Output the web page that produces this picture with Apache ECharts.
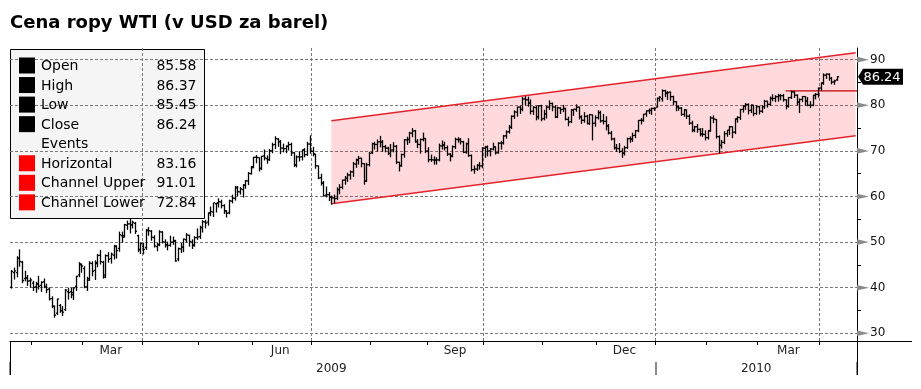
<!DOCTYPE html>
<html><head><meta charset="utf-8">
<script src="https://cdn.jsdelivr.net/npm/echarts@6/dist/echarts.min.js"></script>
<style>html,body{margin:0;padding:0;background:#fff}#c{width:921px;height:389px}</style>
</head><body><div id="c"></div>
<script>
// ---------- DATA ----------
const titleText = 'Cena ropy WTI (v USD za barel)';
const firstDay = '2009-01-21';
const holidays = ['2009-02-16','2009-04-10','2009-05-25','2009-07-03','2009-09-07','2009-11-26','2009-12-25','2010-01-01','2010-01-18','2010-02-15','2010-04-02'];
const slotCount = 315;
const monthNames = ['Jan','Feb','Mar','Apr','May','Jun','Jul','Aug','Sep','Oct','Nov','Dec'];
const labelMonths = [3,6,9,12];
const yTicks = [30,40,50,60,70,80,90];
const yMinorTicks = [35,45,55,65,75,85];
const yMin = 28.31, yMax = 92.56;

const opens = [
 40.1,43.3,43.3,46.4,45.6,42.0,42.1,41.5,
 41.0,40.2,40.9,40.5,41.3,40.3,39.7,37.6,35.9,34.4,36.1,35.0,35.2,39.1,39.1,38.9,40.3,42.8,45.0,
 44.2,40.2,42.0,45.3,43.8,45.3,47.1,45.6,42.8,47.0,46.4,47.1,49.0,48.6,51.4,51.4,53.7,54.0,53.8,54.1,51.4,48.3,
 49.0,48.8,52.5,52.4,51.0,49.0,49.5,52.2,50.0,49.4,49.3,50.0,50.2,46.3,48.5,48.9,50.5,51.5,50.0,49.4,51.0,
 51.2,53.2,54.4,54.4,56.4,56.6,58.4,58.6,58.8,58.0,56.9,56.4,59.0,59.6,61.9,61.0,61.5,62.5,63.4,65.0,
 66.5,68.6,68.5,66.2,68.9,68.3,68.1,70.0,71.4,72.6,72.0,70.6,70.5,71.0,71.4,69.6,66.9,68.7,68.7,70.2,69.2,71.5,
 69.9,69.3,66.7,64.1,62.9,60.3,60.4,59.8,59.7,59.6,61.5,62.0,63.6,64.0,64.7,65.4,67.1,68.0,68.4,67.2,63.4,67.0,
 69.6,71.6,71.4,72.0,71.9,70.9,70.6,69.4,70.2,71.0,67.5,66.8,69.2,72.4,72.5,73.9,74.4,72.0,71.4,72.5,72.7,
 70.0,68.1,68.0,68.0,68.0,71.1,71.3,70.7,69.3,68.9,70.9,72.5,72.5,72.0,69.7,71.6,69.0,65.9,66.0,66.8,66.7,
 70.6,70.8,70.0,70.4,70.9,69.6,71.7,71.8,73.3,74.2,75.2,77.6,78.5,79.6,79.1,81.4,81.2,80.5,78.7,79.5,77.5,79.9,
 77.1,78.1,79.6,80.4,79.6,77.5,79.4,79.1,79.3,76.9,76.4,78.9,79.1,79.6,77.5,76.7,77.6,76.0,77.9,76.1,
 77.3,78.4,76.6,76.5,75.5,73.9,72.6,70.7,70.5,69.9,69.5,70.7,72.7,72.6,73.4,74.4,76.7,76.7,78.1,78.8,78.9,79.3,
 79.6,81.5,81.4,83.2,82.7,82.9,81.9,80.8,79.7,79.4,78.0,79.0,77.6,76.1,74.5,75.3,74.7,73.7,73.6,
 72.9,74.4,77.2,76.9,73.1,71.2,71.9,73.8,74.5,75.3,74.1,77.0,77.3,79.1,79.8,80.2,78.9,80.0,78.2,
 79.7,78.7,79.7,80.9,80.2,81.5,81.5,81.9,82.1,82.1,81.2,79.8,81.7,82.9,82.2,80.7,81.3,81.9,80.9,80.0,80.0,82.2,82.4,
 83.8,84.9,86.6,86.8,85.9,85.1,85.58
];
const highs = [
 43.9,44.4,46.9,48.4,45.9,43.7,42.8,42.2,
 41.5,41.3,42.6,41.4,42.0,40.9,40.1,38.1,36.1,37.6,36.4,36.0,39.7,40.0,40.0,40.1,42.6,45.6,45.3,
 44.7,42.4,45.8,45.8,46.0,47.4,48.3,45.9,47.3,47.8,47.7,49.4,49.3,52.3,52.3,54.0,54.7,55.2,54.7,54.4,51.6,49.9,
 49.9,52.9,53.3,52.6,51.5,49.8,52.6,52.4,50.6,50.1,51.4,51.2,50.5,48.8,49.8,50.8,52.0,51.6,50.6,51.3,53.0,
 53.6,54.8,54.9,56.5,57.8,58.6,58.6,59.6,59.3,58.3,57.0,59.3,60.4,62.3,62.3,62.1,62.7,63.6,65.4,66.7,
 68.7,69.1,68.6,68.9,70.3,69.0,70.4,71.8,73.2,72.8,72.4,71.6,71.2,72.0,71.8,69.7,69.0,69.9,70.3,70.6,72.0,73.4,
 70.9,69.3,66.8,65.0,63.4,62.2,61.0,60.2,60.4,62.0,62.7,63.7,64.5,65.2,65.7,67.6,68.3,68.9,68.5,67.3,67.4,69.8,
 71.8,72.0,72.5,73.3,72.4,71.3,70.9,71.5,71.9,71.3,67.6,69.4,72.6,73.1,74.2,75.0,74.6,72.6,72.7,74.0,72.8,
 70.8,69.2,68.8,68.6,71.6,72.3,72.0,71.2,69.5,71.2,72.9,73.0,72.8,72.2,71.8,72.8,69.2,66.8,67.1,67.6,70.8,
 71.1,71.2,70.6,71.8,71.0,71.9,72.2,73.5,74.5,75.7,77.8,78.9,79.7,79.9,81.8,82.0,81.9,81.3,79.8,79.9,80.0,80.1,
 79.0,79.9,81.1,80.6,80.0,79.7,79.6,80.1,79.5,77.5,79.2,79.2,80.2,79.7,77.8,78.5,77.9,78.1,78.0,77.8,
 78.9,78.8,78.1,77.6,75.9,74.4,72.9,71.5,71.7,70.6,71.1,72.9,73.2,74.0,74.6,76.8,77.2,78.1,78.9,79.3,79.5,79.6,
 81.7,82.0,83.5,83.4,83.1,83.0,82.1,80.9,80.0,79.6,79.2,79.1,78.0,76.6,75.5,75.9,75.0,75.0,74.5,
 74.6,77.6,77.8,77.0,73.4,72.4,74.3,74.6,75.5,75.4,77.1,77.6,79.2,80.0,80.5,80.4,80.2,80.1,80.0,
 79.9,80.0,81.2,81.0,81.9,82.4,82.2,82.5,82.5,82.5,81.3,81.8,83.2,83.1,82.4,81.5,82.0,82.0,81.8,80.9,82.3,82.7,83.9,
 85.0,87.0,87.0,87.0,86.2,85.6,86.37
];
const lows = [
 39.9,41.9,42.4,44.7,41.1,41.5,40.5,40.1,
 39.4,39.0,39.7,39.2,40.0,38.9,37.3,35.6,33.55,34.1,34.6,33.9,35.0,37.5,37.8,37.4,39.4,42.4,43.4,
 40.0,39.4,41.6,42.6,41.8,44.6,45.2,42.1,42.2,45.6,45.4,46.3,46.5,48.0,50.0,51.1,52.8,52.0,53.1,51.9,47.9,47.5,
 47.4,48.4,51.5,50.4,48.9,48.1,49.2,49.8,48.9,48.3,49.1,49.5,45.8,45.9,47.7,47.9,50.0,49.1,48.6,49.1,50.6,
 50.8,52.2,53.1,53.7,55.8,55.6,56.6,57.7,57.5,56.3,55.5,56.2,58.6,59.2,60.2,60.5,59.9,61.8,62.6,64.9,
 66.3,67.4,65.6,65.9,68.0,67.3,67.9,69.6,70.5,71.0,69.4,69.8,69.6,70.2,69.0,66.6,66.5,67.8,68.0,68.7,69.0,69.5,
 68.9,66.2,63.9,62.5,60.1,59.9,59.1,58.3,58.6,59.3,60.6,61.7,62.7,63.3,63.8,64.4,66.4,67.1,66.5,62.7,63.3,66.7,
 69.4,70.4,69.9,70.9,69.9,69.8,69.2,68.7,69.8,67.2,65.6,66.6,68.6,71.4,71.8,73.1,71.9,70.7,69.5,72.2,69.6,
 67.6,67.7,67.1,67.1,67.8,70.4,70.2,69.0,67.8,68.7,70.5,71.9,71.5,69.6,69.5,68.8,65.6,65.1,65.7,66.0,66.3,
 68.6,68.9,68.9,70.2,69.3,69.5,70.4,71.5,72.8,73.9,74.9,77.1,77.6,78.2,78.8,80.1,79.8,78.1,78.0,76.8,77.0,76.6,
 76.8,77.2,79.1,78.8,77.3,77.3,78.2,78.6,76.8,75.5,76.2,77.8,78.7,77.0,76.0,76.3,75.9,75.8,72.4,75.4,
 77.0,76.3,75.9,74.6,73.7,72.4,70.4,69.9,69.6,68.6,69.1,70.5,71.9,72.1,72.9,74.2,75.9,76.5,77.6,78.2,78.0,78.9,
 79.6,80.9,80.9,81.9,81.3,81.1,80.1,78.8,78.9,77.8,77.6,77.1,75.8,74.2,74.2,74.1,73.3,73.2,72.4,
 72.6,74.3,76.2,72.8,69.5,70.6,71.6,73.2,73.6,72.9,73.8,76.3,76.9,78.5,79.1,78.1,78.4,77.7,78.0,
 78.1,78.4,79.3,79.6,80.0,81.0,80.8,80.9,81.2,80.9,79.2,79.6,81.5,81.7,80.1,78.4,80.8,80.0,79.9,79.5,79.9,81.4,81.8,
 83.3,84.6,85.9,85.5,84.7,84.6,85.45
];
const closes = [
 43.55,43.67,46.47,45.73,41.58,42.16,41.44,41.68,
 40.08,40.78,40.32,41.17,40.17,39.56,37.55,35.94,33.98,37.51,34.93,34.62,39.48,38.94,38.44,39.96,42.50,45.22,44.76,
 40.15,41.65,45.38,43.61,45.52,47.07,45.71,42.33,47.03,46.25,47.35,49.16,48.14,51.61,51.06,53.80,53.98,53.77,54.34,52.38,48.41,49.66,
 48.39,52.64,52.51,51.05,49.15,49.38,52.24,50.05,49.41,49.25,49.98,50.33,45.88,48.55,48.86,50.62,51.55,50.14,49.20,50.97,51.12,
 53.20,54.47,54.16,56.34,56.71,58.63,58.50,58.85,58.02,56.85,56.34,59.03,59.65,62.04,61.05,61.67,62.45,63.45,65.08,66.31,
 68.58,68.55,66.12,68.81,68.44,68.09,70.01,71.33,72.68,72.04,70.62,70.47,71.03,71.37,69.55,66.93,68.67,68.67,70.20,69.16,71.49,69.89,
 69.31,66.73,64.05,62.93,60.14,60.41,59.89,59.69,59.52,61.54,62.02,63.56,63.98,64.72,65.40,67.15,68.05,68.38,67.23,63.35,66.94,69.45,
 71.58,71.42,71.97,71.94,70.93,70.60,69.45,70.16,71.01,67.51,66.75,69.19,72.42,72.54,73.89,74.37,72.05,71.43,72.49,72.74,69.96,
 68.05,68.05,67.96,68.02,71.10,71.31,70.68,69.29,68.86,70.93,72.51,72.47,72.04,69.71,71.55,68.97,65.89,66.02,66.84,66.71,70.61,
 70.82,69.95,70.41,70.88,69.57,71.69,71.77,73.27,74.15,75.18,77.58,78.53,79.61,79.09,81.37,81.19,80.50,78.68,79.55,77.46,79.87,77.00,
 78.13,79.60,80.40,79.62,77.43,79.43,79.05,79.28,76.94,76.35,78.90,79.14,79.58,77.46,76.72,77.56,76.02,77.96,76.05,77.28,
 78.37,76.60,76.46,75.47,73.93,72.62,70.67,70.54,69.87,69.51,70.69,72.66,72.58,73.36,74.40,76.67,76.67,78.05,78.77,78.87,79.28,79.36,
 81.51,81.77,83.18,82.66,82.75,81.89,80.79,79.65,79.39,78.00,79.02,77.62,76.08,74.54,75.26,74.71,73.67,73.64,72.89,
 74.43,77.23,76.98,73.14,71.19,71.89,73.75,74.52,75.28,74.13,77.01,77.33,79.06,79.81,80.16,78.86,80.00,78.17,79.66,
 78.70,79.68,80.87,80.21,81.50,81.49,81.87,82.09,82.11,81.24,79.80,81.70,82.93,82.20,80.68,81.25,81.91,80.91,80.00,80.00,82.17,82.37,83.76,
 84.87,86.62,86.84,85.88,85.10,85.35,86.24
];
// channel (category index, upper, lower) and horizontal level
const channelIdx = [119, 314];
const channelUpper = [76.6, 91.5];
const channelLower = [58.4, 73.3];
const horizontalIdx = [288, 314];
const horizontalLevel = 83.16;
const legendChannelUpper = 91.01;
const legendChannelLower = 72.84;

// ---------- CATEGORIES ----------
const dates = [];
(function () {
  const p = firstDay.split('-').map(Number);
  const d = new Date(Date.UTC(p[0], p[1] - 1, p[2]));
  while (dates.length < slotCount) {
    const s = d.toISOString().slice(0, 10);
    const wd = d.getUTCDay();
    if (wd !== 0 && wd !== 6 && holidays.indexOf(s) < 0) dates.push(s);
    d.setUTCDate(d.getUTCDate() + 1);
  }
})();
const mKey = i => dates[i].slice(0, 7);
const mNum = i => +dates[i].slice(5, 7);
const yKey = i => dates[i].slice(0, 4);
const isMonthStart = i => i > 0 && mKey(i) !== mKey(i - 1);
const isQuarterStart = i => isMonthStart(i) && [1, 4, 7, 10].indexOf(mNum(i)) >= 0;
const monthLabelIdx = new Set();
const yearLabelIdx = new Set();
const yearStartIdx = new Set([0]);
(function () {
  let s = 0;
  for (let i = 1; i <= dates.length; i++) {
    if (i === dates.length || mKey(i) !== mKey(s)) {
      if (labelMonths.indexOf(mNum(s)) >= 0) monthLabelIdx.add(Math.floor((s + i - 1) / 2));
      s = i;
    }
  }
  s = 0;
  for (let i = 1; i <= dates.length; i++) {
    if (i === dates.length || yKey(i) !== yKey(s)) {
      yearLabelIdx.add(Math.floor((s + i - 1) / 2));
      if (i < dates.length) yearStartIdx.add(i);
      s = i;
    }
  }
})();

const ohlcData = closes.map((c, i) => [i, opens[i], highs[i], lows[i], c]);
const last = closes.length - 1;

const FONT = '"DejaVu Sans", Verdana, sans-serif';

// ---------- CHART ----------
const chart = echarts.init(document.getElementById('c'), null, { renderer: 'canvas' });

const legendRows = [
  { name: 'Open', color: '#000', val: opens[last] },
  { name: 'High', color: '#000', val: highs[last] },
  { name: 'Low', color: '#000', val: lows[last] },
  { name: 'Close', color: '#000', val: closes[last] },
  { name: 'Events', color: null, val: null },
  { name: 'Horizontal', color: '#ff0000', val: horizontalLevel },
  { name: 'Channel Upper', color: '#ff0000', val: legendChannelUpper },
  { name: 'Channel Lower', color: '#ff0000', val: legendChannelLower }
];
const legendEls = [{
  type: 'rect', z: -10, shape: { x: 10.5, y: 49.5, width: 194, height: 169 },
  style: { fill: '#f5f5f5', stroke: '#000', lineWidth: 1 }
}];
legendRows.forEach((r, i) => {
  const cy = 65.5 + 19.55 * i;
  if (r.color) legendEls.push({ type: 'rect', z: 100, shape: { x: 19, y: cy - 8, width: 16, height: 16 }, style: { fill: r.color } });
  legendEls.push({ type: 'text', z: 100, style: { x: 41, y: cy + 1, text: r.name, font: '14px ' + FONT, fill: '#000', verticalAlign: 'middle', align: 'left' } });
  if (r.val != null) legendEls.push({ type: 'text', z: 100, style: { x: 196.5, y: cy + 1, text: r.val.toFixed(2), font: '14px ' + FONT, fill: '#000', verticalAlign: 'middle', align: 'right' } });
});

const option = {
  animation: false,
  backgroundColor: '#fff',
  grid: { left: 10, right: 64, top: 48, bottom: 48, containLabel: false },
  graphic: [
    { type: 'text', z: 100, style: { x: 10, y: 23, text: titleText, font: 'bold 18px ' + FONT, fill: '#000', verticalAlign: 'middle' } },
    ...legendEls,
    { type: 'line', z: 100, shape: { x1: 10.5, y1: 341, x2: 10.5, y2: 375 }, style: { stroke: '#000', lineWidth: 1 } },
    { type: 'line', z: 100, shape: { x1: 857.5, y1: 341, x2: 857.5, y2: 375 }, style: { stroke: '#000', lineWidth: 1 } },
    { type: 'line', z: 100, shape: { x1: 857, y1: 341.5, x2: 912, y2: 341.5 }, style: { stroke: '#000', lineWidth: 1 } }
  ],
  xAxis: [{
    type: 'category', data: dates, boundaryGap: true,
    axisLine: { show: true, lineStyle: { color: '#000', width: 1 } },
    axisTick: { show: true, interval: (i) => isMonthStart(i), length: 4, lineStyle: { color: '#000' } },
    axisLabel: {
      interval: (i) => monthLabelIdx.has(i),
      formatter: (v) => monthNames[+v.slice(5, 7) - 1],
      color: '#222', fontSize: 12, fontFamily: FONT, margin: 4
    },
    splitLine: { show: true, interval: (i) => isQuarterStart(i), lineStyle: { color: '#7a7a7a', type: [3, 2], width: 1 } }
  }, {
    type: 'category', data: dates, boundaryGap: true, position: 'bottom', offset: 21,
    axisLine: { show: false },
    axisTick: { show: true, interval: (i) => yearStartIdx.has(i), length: 13, lineStyle: { color: '#888', width: 2 } },
    axisLabel: { interval: (i) => yearLabelIdx.has(i), formatter: (v) => v.slice(0, 4), color: '#222', fontSize: 12, fontFamily: FONT, margin: 1 },
    splitLine: { show: false }
  }],
  yAxis: [{
    type: 'value', position: 'right', min: yMin, max: yMax, scale: true,
    axisLine: { show: true, lineStyle: { color: '#000', width: 1 } },
    axisTick: { show: false, customValues: yTicks },
    axisLabel: { customValues: yTicks, margin: 13, color: '#111', fontSize: 12, fontFamily: FONT },
    splitLine: { show: true, lineStyle: { color: '#7a7a7a', type: [3, 2], width: 1 } }
  }, {
    type: 'value', position: 'right', min: yMin, max: yMax, scale: true,
    axisLine: { show: false },
    axisTick: { show: true, customValues: yMinorTicks, length: 4, lineStyle: { color: '#000' } },
    axisLabel: { show: false, customValues: yMinorTicks },
    splitLine: { show: false }
  }],
  series: [
    {
      name: 'Channel', type: 'custom', z: 1, silent: true,
      data: [[channelIdx[0], channelUpper[0]]],
      renderItem: function (params, api) {
        const u0 = api.coord([channelIdx[0], channelUpper[0]]);
        const u1 = api.coord([channelIdx[1], channelUpper[1]]);
        const l0 = api.coord([channelIdx[0], channelLower[0]]);
        const l1 = api.coord([channelIdx[1], channelLower[1]]);
        return { type: 'group', children: [
          { type: 'polygon', shape: { points: [u0, u1, l1, l0] }, style: { fill: 'rgba(255,0,20,0.15)' } },
          { type: 'line', shape: { x1: u0[0], y1: u0[1], x2: u1[0], y2: u1[1] }, style: { stroke: '#e3242b', lineWidth: 1.5 } },
          { type: 'line', shape: { x1: l0[0], y1: l0[1], x2: l1[0], y2: l1[1] }, style: { stroke: '#e3242b', lineWidth: 1.5 } }
        ] };
      }
    },
    {
      name: 'Horizontal', type: 'custom', z: 2, silent: true,
      data: [[horizontalIdx[0], horizontalLevel]],
      renderItem: function (params, api) {
        const a = api.coord([horizontalIdx[0], horizontalLevel]);
        const b = api.coord([horizontalIdx[1], horizontalLevel]);
        return { type: 'line', shape: { x1: a[0], y1: a[1], x2: b[0] + 1.5, y2: b[1] }, style: { stroke: '#c40000', lineWidth: 1.2 } };
      }
    },
    {
      name: 'WTI', type: 'custom', z: 3, silent: true,
      dimensions: ['i', 'open', 'high', 'low', 'close'],
      encode: { x: 0, y: [1, 2, 3, 4] },
      data: ohlcData,
      renderItem: function (params, api) {
        const i = api.value(0);
        const pO = api.coord([i, api.value(1)]);
        const pH = api.coord([i, api.value(2)]);
        const pL = api.coord([i, api.value(3)]);
        const pC = api.coord([i, api.value(4)]);
        const x = Math.round(pO[0]) + 0.5;
        const t = 1.6;
        const st = { stroke: '#000', lineWidth: 1.3 };
        return { type: 'group', children: [
          { type: 'line', shape: { x1: x, y1: pH[1], x2: x, y2: pL[1] + 0.5 }, style: st },
          { type: 'line', shape: { x1: x - t, y1: pO[1], x2: x, y2: pO[1] }, style: st },
          { type: 'line', shape: { x1: x, y1: pC[1], x2: x + t, y2: pC[1] }, style: st }
        ] };
      }
    },
    {
      name: 'TickMarks', type: 'custom', z: 5, silent: true, clip: false,
      data: yTicks.map(v => [0, v]),
      renderItem: function (params, api) {
        const cs = params.coordSys;
        const xr = cs.x + cs.width;
        const y = api.coord([0, api.value(1)])[1];
        return { type: 'polygon', shape: { points: [[xr, y - 2.8], [xr + 12, y], [xr, y + 2.8]] }, style: { fill: '#8a8a8a' } };
      }
    },
    {
      name: 'LastTag', type: 'custom', z: 6, silent: true, clip: false,
      data: [[last, closes[last]]],
      renderItem: function (params, api) {
        const cs = params.coordSys;
        const xr = cs.x + cs.width + 1;
        const y = api.coord([api.value(0), api.value(1)])[1];
        return { type: 'group', children: [
          { type: 'polygon', shape: { points: [[xr, y], [xr + 5, y - 8], [xr + 45, y - 8], [xr + 45, y + 8], [xr + 5, y + 8]] }, style: { fill: '#000' } },
          { type: 'text', style: { x: xr + 24, y: y + 0.5, text: api.value(1).toFixed(2), font: '13px ' + FONT, fill: '#fff', align: 'center', verticalAlign: 'middle' } }
        ] };
      }
    }
  ]
};
chart.setOption(option);
</script>
</body></html>
